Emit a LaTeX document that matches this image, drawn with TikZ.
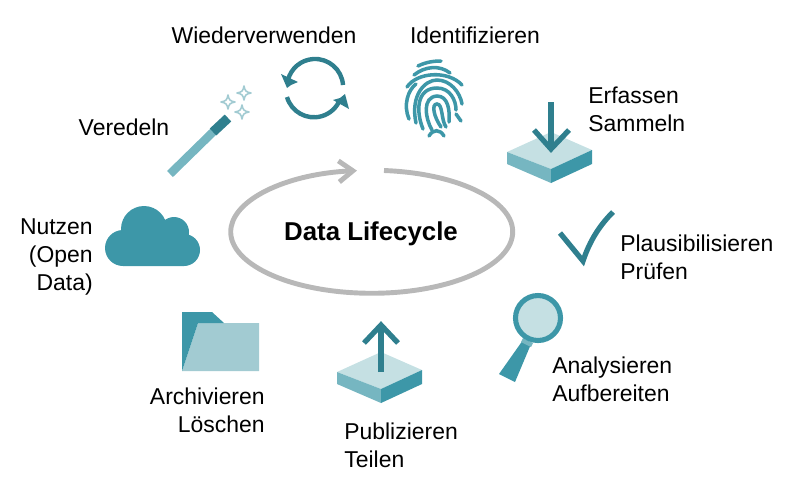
\documentclass[tikz,border=0pt]{standalone}
\usepackage{fontspec}
\setmainfont{Liberation Sans}
\usepackage{tikz}
\usetikzlibrary{arrows.meta}
\definecolor{tealdark}{HTML}{2F7F8E}
\definecolor{tealmid}{HTML}{3D97A8}
\definecolor{teallight}{HTML}{76B6C1}
\definecolor{tealpale}{HTML}{A2CBD2}
\definecolor{tealtop}{HTML}{C5E0E3}
\definecolor{ringgray}{HTML}{B8B8B8}
\tikzstyle{label} = [inner sep=0pt, text=black, font=\fontsize{13.05}{16}\selectfont]
\tikzstyle{cycle} = [line width=2.8pt, draw=ringgray, -{Straight Barb[length=8pt,width=12pt]}]
\tikzstyle{icon} = [line width=3pt, draw=tealdark]
\tikzstyle{print} = [line width=2pt, draw=tealmid, line cap=round]
\tikzstyle{spark} = [line width=0.9pt, draw=tealpale, line join=round]
\newcommand{\platform}[2]{
\begin{scope}[shift={(#1,#2)}]
\fill [tealtop] (-44,-17) -- (0,-37) -- (41,-19) -- (0,0) -- cycle;
\fill [teallight] (-44,-17) -- (0,0) -- (0,14) -- (-44,-5) -- cycle;
\fill [tealmid] (41,-19) -- (0,0) -- (0,14) -- (41,-5) -- cycle;
\end{scope}
}
\newcommand{\sparkle}[2]{
\draw [spark, shift={(#1,#2)}] (0,-7) .. controls (1,-2) and (2,-1) .. (7,0) .. controls (2,1) and (1,2) .. (0,7) .. controls (-1,2) and (-2,1) .. (-7,0) .. controls (-2,-1) and (-1,-2) .. (0,-7) -- cycle;
}
\begin{document}
\begin{tikzpicture}[x=0.02cm, y=-0.02cm]
\useasboundingbox (0,0) rectangle (800,488);
\draw [cycle] (384,170.5) arc [start angle=-85, end angle=264, x radius=141, y radius=61.5];
\node (title) [label, font=\fontsize{14.7}{16}\selectfont\bfseries] at (371,234) {Data Lifecycle};
\node (wieder) [label] at (264,35) {Wiederverwenden};
\node (ident) [label] at (475,35) {Identifizieren};
\node (erfassen) [label, anchor=west, align=left] at (588,109) {Erfassen\\Sammeln};
\node (veredeln) [label] at (124,127) {Veredeln};
\node (nutzen) [label, anchor=east, align=right] at (93,257) {Nutzen\\(Open\\Data)};
\node (pruefen) [label, anchor=west, align=left] at (620,257) {Plausibilisieren\\Prüfen};
\node (analyse) [label, anchor=west, align=left] at (552,379) {Analysieren\\Aufbereiten};
\node (archiv) [label, anchor=east, align=right] at (265,410) {Archivieren\\Löschen};
\node (teilen) [label, anchor=west, align=left] at (344,445) {Publizieren\\Teilen};
\platform{551}{169}
\draw [icon] (551,102) -- (551,149);
\draw [icon] (534,130) -- (551,149) -- (569,130);
\platform{381}{389}
\draw [icon] (381,372) -- (381,325);
\draw [icon] (364,343) -- (381,325) -- (398,343);
\draw [icon] (560,233) -- (583,261) .. controls (590,240) and (600,225) .. (613,212);
\fill [tealmid] (523,340) -- (531,344) -- (515,382) -- (499,374) -- cycle;
\fill [teallight] (523,338) -- (533,343) -- (531,347) -- (521,342) -- cycle;
\draw [line width=2.9pt, draw=tealmid, fill=tealtop] (538,318) circle (22.5);
\fill [tealpale] (198,323) -- (259,323) -- (259,371) -- (182,371) -- cycle;
\fill [tealmid] (182,312) -- (212,312) -- (224,323) -- (198,323) -- (182,371) -- cycle;
\fill [tealmid] (123,248) circle (18) (144,229) circle (23) (174,232) circle (15) (184,250) circle (16);
\fill [tealmid] (123,232) -- (160,225) -- (184,234) -- (184,266) -- (123,266) -- cycle;
\draw [line width=4.8pt, draw=teallight] (170,174) -- (214,131);
\draw [line width=5.4pt, draw=tealdark] (213,132) -- (228,118);
\sparkle{244}{93}
\sparkle{228}{102}
\sparkle{242}{112}
\draw [icon, line width=2.5pt] (343,85) arc [start angle=-4, end angle=-165, radius=28];
\fill [tealdark] (281,74) -- (298,82) -- (291,85) -- (287,88) -- cycle;
\draw [icon, line width=2.5pt] (287,97) arc [start angle=164, end angle=22, radius=28];
\fill [tealdark] (349,109) -- (345,94) -- (340,98) -- (333,100) -- cycle;
\draw [print] (418,66) .. controls (426,62) and (434,61) .. (441,61);
\draw [print] (414,75) .. controls (425,66) and (440,65) .. (450,73);
\draw [print] (407,87) .. controls (417,72) and (448,70) .. (462,85);
\draw [print] (409,119) .. controls (403,105) and (408,90) .. (416,84);
\draw [print] (416,123) .. controls (410,95) and (425,80) .. (437,80) .. controls (450,80) and (460,92) .. (462,104);
\draw [print] (423,129) .. controls (416,112) and (416,88) .. (437,88) .. controls (450,88) and (456,100) .. (456,110);
\draw [print] (432,130) .. controls (425,118) and (422,97) .. (437,96) .. controls (448,96) and (450,110) .. (449,122);
\draw [print] (441,127) .. controls (434,117) and (431,104) .. (437,104) .. controls (443,104) and (441,120) .. (446,127);
\draw [print] (429,136) .. controls (433,129) and (440,129) .. (444,136);
\draw [print] (456,114) -- (461,121);
\end{tikzpicture}
\end{document}
